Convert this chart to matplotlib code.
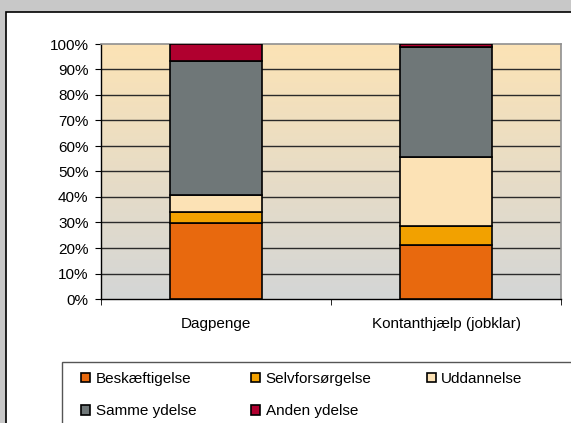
import numpy as np
import matplotlib.pyplot as plt
from matplotlib.patches import Rectangle
from matplotlib.colors import LinearSegmentedColormap

plt.rcParams['font.family'] = ['Liberation Sans', 'DejaVu Sans']

categories = ['Dagpenge', 'Kontanthjælp (jobklar)']
series = ['Beskæftigelse', 'Selvforsørgelse', 'Uddannelse', 'Samme ydelse', 'Anden ydelse']
beskaeftigelse = [29.8, 21.2]
selvforsoergelse = [4.3, 7.3]
uddannelse = [6.7, 27.2]
samme_ydelse = [52.7, 43.3]
anden_ydelse = [6.5, 1.0]
colors = ['#E8690E', '#F2A100', '#FCE2B5', '#6F7778', '#B0002F']

values = [beskaeftigelse, selvforsoergelse, uddannelse, samme_ydelse, anden_ydelse]
fs = 11

fig = plt.figure(figsize=(5.71, 4.23), dpi=100, facecolor='#C8C8C8')

# white chart area, partly outside the crop
fig.patches.append(Rectangle((6 / 571, -0.1), 1.1, (423 - 12) / 423 + 0.1,
                             transform=fig.transFigure, facecolor='white',
                             edgecolor='black', lw=1.2, zorder=-5))

ax = fig.add_axes([101 / 571, (423 - 299) / 423, 460 / 571, 255 / 423])
ax.set_xlim(-0.5, 1.5)
ax.set_ylim(0, 100)

# gradient background of plot area
grad = LinearSegmentedColormap.from_list('bg', ['#D4D6D6', '#FCE3B5'])
ax.imshow(np.linspace(0, 1, 256).reshape(-1, 1), aspect='auto', cmap=grad,
          extent=(-0.5, 1.5, 0, 100), origin='lower', zorder=0)

ax.set_yticks(np.arange(0, 101, 10))
ax.set_yticklabels([f'{v}%' for v in range(0, 101, 10)])
for y in range(10, 100, 10):
    ax.axhline(y, color='#2a2a2a', lw=1.0, zorder=1)

x = np.arange(len(categories))
bottom = np.zeros(len(categories))
handles = []
for name, vals, c in zip(series, values, colors):
    b = ax.bar(x, vals, 0.4, bottom=bottom, color=c, edgecolor='black',
               lw=1.2, label=name, zorder=3)
    handles.append(b)
    bottom += np.array(vals)

ax.set_xticks(x)
ax.set_xticklabels(categories)
ax.set_xticks([-0.5, 0.5, 1.5], minor=True)
ax.tick_params(axis='x', which='major', length=0, pad=13, labelsize=fs)
ax.tick_params(axis='x', which='minor', length=4, direction='out', color='black')
ax.tick_params(axis='y', length=4, direction='out', pad=5, labelsize=fs, color='black')

for s in ['top', 'right']:
    ax.spines[s].set_color('#909090')
    ax.spines[s].set_linewidth(1.2)
for s in ['left', 'bottom']:
    ax.spines[s].set_color('black')
    ax.spines[s].set_linewidth(1.0)

# legend box
fig.patches.append(Rectangle((62 / 571, -0.1), 1.0, (423 - 362) / 423 + 0.1,
                             transform=fig.transFigure, facecolor='white',
                             edgecolor='#555555', lw=1.0, zorder=-4))
order = [0, 3, 1, 4, 2]
leg = fig.legend(handles=[handles[i] for i in order], labels=[series[i] for i in order],
                 ncol=3, frameon=False, borderpad=0, borderaxespad=0,
                 loc='upper left', bbox_to_anchor=(81 / 571, (423 - 372) / 423),
                 handlelength=0.6, handleheight=0.6, handletextpad=0.35,
                 columnspacing=3.6, labelspacing=1.2, fontsize=fs)

fig.savefig('out.png', dpi=100, facecolor=fig.get_facecolor())
